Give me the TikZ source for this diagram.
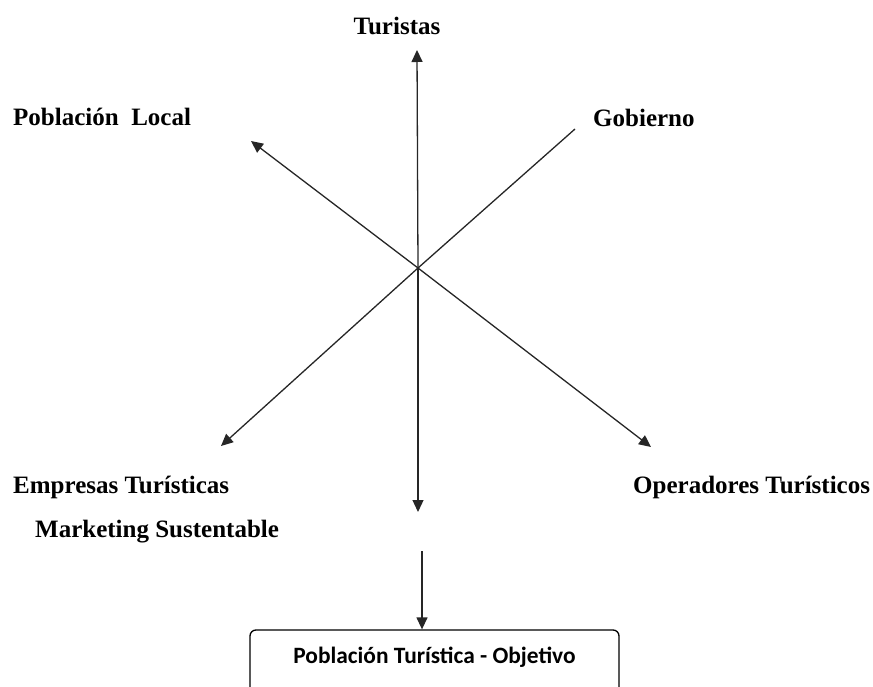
\documentclass[tikz,border=0pt]{standalone}
\usepackage{fontspec}
\setmainfont{Liberation Serif}
\newfontfamily\boxfont{Carlito}
\usetikzlibrary{arrows.meta}
\begin{document}
\begin{tikzpicture}[x=1pt,y=-1pt,
  conn/.style={line width=1.3pt, draw=black!85},
  arr/.style={conn,-{Triangle[length=12pt,width=11pt]}},
  lbl/.style={font=\fontsize{25}{30}\selectfont\bfseries, inner sep=0pt},
]
\useasboundingbox (0,0) rectangle (873,687);
\clip (0,0) rectangle (873,687);
\coordinate (c) at (418,268);
\coordinate (tup) at (417,50);
\coordinate (tdown) at (418,512);
\coordinate (tnw) at (251,141);
\coordinate (tse) at (651,447);
\coordinate (gne) at (575,129);
\coordinate (tsw) at (221,446);
\coordinate (bstart) at (422,551);

\node[lbl, anchor=base] (turistas) at (397,35) {Turistas};
\node[lbl, anchor=base west] (poblocal) at (13,126) {Población\ \ Local};
\node[lbl, anchor=base west] (gobierno) at (593,127) {Gobierno};
\node[lbl, anchor=base west] (empresas) at (13,493) {Empresas Turísticas};
\node[lbl, anchor=base west] (marketing) at (35,537) {Marketing Sustentable};
\node[lbl, anchor=base west] (operadores) at (633,493) {Operadores Turísticos};
\node[draw, rounded corners=6pt, line width=1.3pt, minimum width=369pt, inner ysep=0pt,
      text height=33pt, text depth=40pt,
      font=\boxfont\fontsize{23.4}{28}\selectfont\bfseries, anchor=base]
      (target) at (434.5,663) {Población Turística - Objetivo};

\draw[arr] (c) -- (tup);
\draw[arr] (c) -- (tdown);
\draw[arr] (c) -- (tnw);
\draw[arr] (c) -- (tse);
\draw[conn] (gne) -- (c);
\draw[arr] (c) -- (tsw);
\draw[arr] (bstart) -- (bstart |- target.north);
\end{tikzpicture}
\end{document}
